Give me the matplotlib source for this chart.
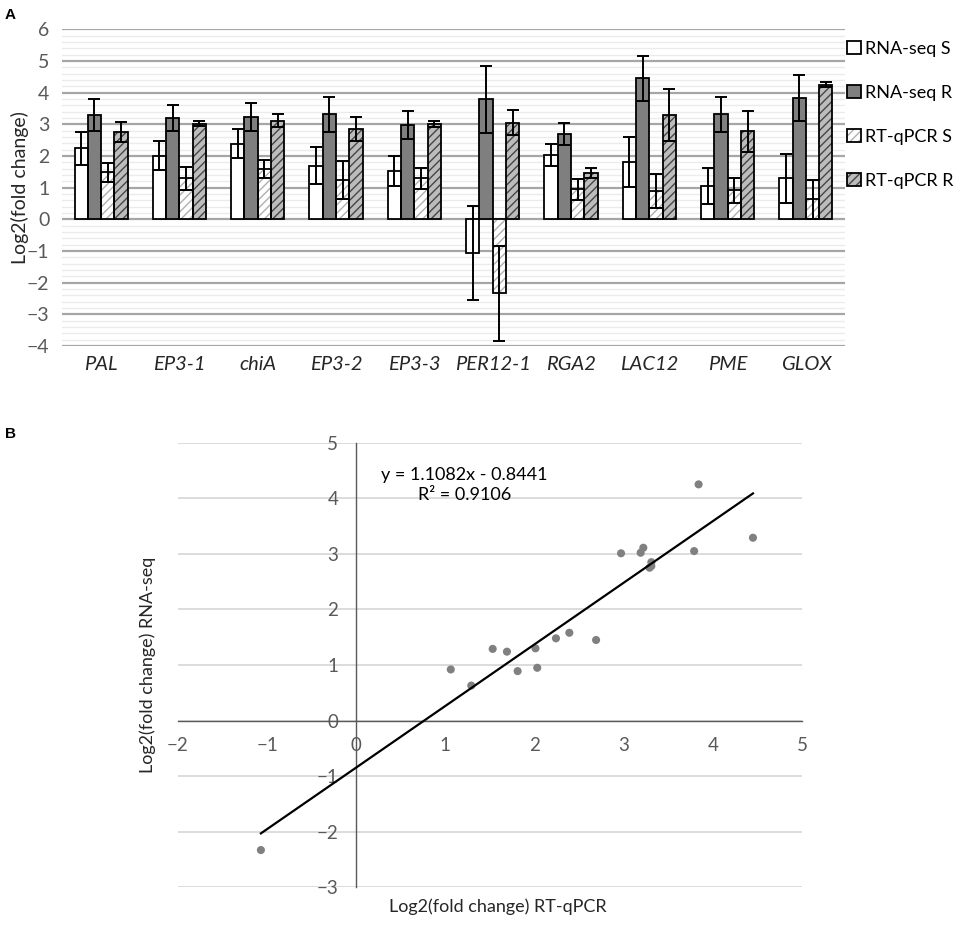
import numpy as np
import matplotlib
matplotlib.use('Agg')
import matplotlib.pyplot as plt
from matplotlib.ticker import MultipleLocator
from matplotlib.legend_handler import HandlerTuple

plt.rcParams['font.family'] = ['Lato', 'DejaVu Sans']
plt.rcParams['hatch.linewidth'] = 1.0

# values (log2 fold change, with error bars)
genes = ['PAL', 'EP3-1', 'chiA', 'EP3-2', 'EP3-3', 'PER12-1', 'RGA2', 'LAC12', 'PME', 'GLOX']
rnaseq_s = [2.24, 2.01, 2.39, 1.69, 1.53, -1.07, 2.03, 1.81, 1.06, 1.29]
rnaseq_s_err = [0.53, 0.45, 0.46, 0.59, 0.47, 1.49, 0.36, 0.79, 0.57, 0.78]
rnaseq_r = [3.29, 3.19, 3.22, 3.31, 2.97, 3.79, 2.69, 4.45, 3.31, 3.84]
rnaseq_r_err = [0.50, 0.41, 0.44, 0.55, 0.44, 1.05, 0.34, 0.72, 0.56, 0.72]
qpcr_s = [1.48, 1.30, 1.58, 1.24, 1.29, -2.33, 0.95, 0.89, 0.92, 0.63]
qpcr_s_err = [0.30, 0.36, 0.28, 0.60, 0.32, 1.50, 0.33, 0.54, 0.40, 0.62]
qpcr_r = [2.75, 3.02, 3.11, 2.85, 3.01, 3.05, 1.45, 3.29, 2.78, 4.25]
qpcr_r_err = [0.31, 0.07, 0.20, 0.37, 0.09, 0.40, 0.16, 0.81, 0.65, 0.08]
series_names = ['RNA-seq S', 'RNA-seq R', 'RT-qPCR S', 'RT-qPCR R']

# trend line as printed on the chart
slope = 1.1082
intercept = -0.8441
r2 = 0.9106

fig = plt.figure(figsize=(9.57, 9.26), dpi=100)
W, H = 957, 926

# ---------------- panel A ----------------
ax1 = fig.add_axes([62 / W, 1 - 346 / H, 783 / W, 316.7 / H])
x = np.arange(len(genes))
w = 0.17
styles = [
    # face, hatch, hatch colour
    ('white', None, 'white'),
    ('#7f7f7f', None, '#7f7f7f'),
    ('white', '////', '#b0b0b0'),
    ('#bcbcbc', '////', '#464646'),
]
vals = [rnaseq_s, rnaseq_r, qpcr_s, qpcr_r]
errs = [rnaseq_s_err, rnaseq_r_err, qpcr_s_err, qpcr_r_err]
handles = []
for i, (v, e, (face, hatch, hc)) in enumerate(zip(vals, errs, styles)):
    pos = x + (i - 1.5) * w
    b_fill = ax1.bar(pos, v, w, color=face, hatch=hatch, edgecolor=hc, lw=0, zorder=2)
    b_edge = ax1.bar(pos, v, w, fill=False, edgecolor='black', lw=1.3, zorder=3)
    ax1.errorbar(pos, v, yerr=e, fmt='none', ecolor='black', elinewidth=1.4,
                 capsize=4, capthick=1.4, zorder=4)
    handles.append((b_fill, b_edge))

ax1.set_xlim(-0.5, len(genes) - 0.5)
ax1.set_ylim(-4, 6)
ax1.set_yticks(range(-4, 7))
ax1.yaxis.set_minor_locator(MultipleLocator(0.2))
ax1.grid(axis='y', which='major', color='#a6a6a6', lw=1.6)
ax1.grid(axis='y', which='minor', color='#ebebeb', lw=1.0)
ax1.set_axisbelow(True)
for s in ax1.spines.values():
    s.set_visible(False)
ax1.set_xticks(x)
ax1.set_xticklabels(genes, style='italic', fontsize=14.5, color='#262626')
ax1.tick_params(axis='both', which='both', length=0)
ax1.tick_params(axis='x', pad=7)
ax1.tick_params(axis='y', pad=9, labelsize=14, labelcolor='#595959')
ax1.set_ylabel('Log2(fold change)', fontsize=14, color='#262626')
ax1.yaxis.set_label_coords(-0.042, 0.5)

fig.legend(handles, series_names, handler_map={tuple: HandlerTuple(ndivide=1, pad=0)},
           loc='upper left', bbox_to_anchor=(847 / W, 1 - 41 / H), frameon=False,
           fontsize=13, handlelength=0.75, handleheight=0.75, handletextpad=0.25,
           labelspacing=1.55, borderpad=0, borderaxespad=0)

# ---------------- panel B ----------------
ax2 = fig.add_axes([178 / W, 1 - 887.3 / H, 624 / W, 444.6 / H])
sx = np.array(rnaseq_s + rnaseq_r)
sy = np.array(qpcr_s + qpcr_r)
ax2.scatter(sx, sy, s=34, color='#808080', edgecolors='none', zorder=3)
lx = np.array([sx.min(), sx.max()])
ax2.plot(lx, slope * lx + intercept, color='black', lw=1.6, zorder=4)

ax2.set_xlim(-2, 5)
ax2.set_ylim(-3, 5)
ax2.set_xticks(range(-2, 6))
ax2.set_yticks(range(-3, 6))
ax2.grid(axis='y', color='#d9d9d9', lw=1.3)
ax2.set_axisbelow(True)
ax2.spines['top'].set_visible(False)
ax2.spines['right'].set_visible(False)
ax2.spines['left'].set_position(('data', 0))
ax2.spines['bottom'].set_position(('data', 0))
for s in ('left', 'bottom'):
    ax2.spines[s].set_color('#595959')
    ax2.spines[s].set_linewidth(1.0)
ax2.tick_params(axis='both', length=0, labelsize=13.5, labelcolor='#595959')
ax2.tick_params(axis='y', pad=13)
ax2.tick_params(axis='x', pad=12)
ax2.set_xlabel('Log2(fold change) RT-qPCR', fontsize=13, color='#262626')
ax2.xaxis.set_label_coords(0.513, -0.025)
ax2.set_ylabel('Log2(fold change) RNA-seq', fontsize=13, color='#262626')
ax2.yaxis.set_label_coords(-0.035, 0.5)
ax2.text(0.459, 0.905, f'y = {slope}x - {abs(intercept)}\nR² = {r2}',
         transform=ax2.transAxes, ha='center', va='center', multialignment='center',
         fontsize=13, linespacing=1.35, color='black')

fig.text(5 / W, 1 - 15 / H, 'A', fontsize=11, weight='bold', va='center',
         family='Liberation Sans')
fig.text(5 / W, 1 - 434 / H, 'B', fontsize=11, weight='bold', va='center',
         family='Liberation Sans')

fig.savefig('out.png', dpi=100)
